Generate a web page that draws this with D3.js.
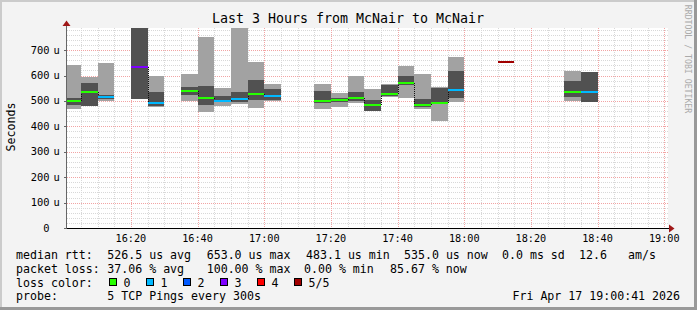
<!DOCTYPE html>
<html>
<head>
<meta charset="utf-8">
<script src="https://cdn.jsdelivr.net/npm/d3@7"></script>
<style>
  body { margin: 0; background: #f3f3f3; }
  text { font-family: "DejaVu Sans Mono", monospace; fill: #000; }
</style>
</head>
<body>
<div id="chart"></div>
<script>
// 5 minute steps, times are the start of each step
var steps   = ["16:00","16:05","16:10","16:20","16:25","16:35","16:40","16:45","16:50","16:55","17:00",
               "17:15","17:20","17:25","17:30","17:35","17:40","17:45","17:50","17:55","18:10","18:30","18:35"];
var pingMin = [469, 481, 501, 507, 475, 499, 457, 480, 489, 473, 501, 469, 477, 490, 461, 514, 512, 468, 422, 497, null, 501, 494];
var pingLo  = [483, 481, 506, 507, 480, 523, 485, 494, 497, 503, 503, 490, 495, 498, 461, 519, 564, 476, 490, 510, null, 514, 496];
var median  = [498, 537, 516, 634, 493, 540, 512, 501, 507, 527, 519, 501, 503, 511, 485, 527, 571, 484, 493, 543, 653, 536, 535];
var pingHi  = [511, 570, 524, 800, 535, 554, 558, 519, 535, 582, 547, 539, 511, 535, 503, 562, 598, 506, 550, 617, null, 578, 612];
var pingMax = [642, 594, 650, 800, 599, 606, 752, 551, 800, 653, 566, 566, 530, 599, 547, 566, 638, 605, 553, 674, null, 617, 614];
var loss    = [0, 0, 1, 3, 1, 0, 0, 1, 1, 0, 1, 0, 0, 0, 0, 0, 0, 0, 0, 1, 5, 0, 1];

var lossLabels = ["0", "1", "2", "3", "4", "5/5"];
var lossColors = ["#26ff00", "#00b8ff", "#0059ff", "#7e00ff", "#ff0000", "#a10000"];
var yTicks = [0, 100, 200, 300, 400, 500, 600, 700];

var w = 697, h = 310;
var pLeft = 67, pRight = 667, pTop = 28, pBottom = 228;

var parse = d3.timeParse("%Y-%m-%d %H:%M:%S");
var t0 = parse("2026-04-17 16:00:41"), t1 = parse("2026-04-17 19:00:41");
var day = "2026-04-17 ";

var x = d3.scaleTime().domain([t0, t1]).range([pLeft - 0.5, pRight - 0.5]);
var y = d3.scaleLinear().domain([0, 787]).range([pBottom, pTop]);

var data = steps.map(function(s, i) {
    var a = parse(day + s + ":00");
    return { t: a, t2: d3.timeMinute.offset(a, 5), min: pingMin[i], lo: pingLo[i],
             med: median[i], hi: pingHi[i], max: pingMax[i], loss: loss[i] };
});

var svg = d3.select("#chart").append("svg")
    .attr("width", w)
    .attr("height", h)
    .style("display", "block");

// frame
svg.append("rect").attr("width", w).attr("height", h).attr("fill", "#f3f3f3");
svg.append("path").attr("d", "M1,309V1H696").attr("fill", "none").attr("stroke", "#cbcbcb").attr("stroke-width", 2);
svg.append("path").attr("d", "M0,308.5H695.5V0").attr("fill", "none").attr("stroke", "#999").attr("stroke-width", 3);

// canvas
svg.append("rect").attr("x", pLeft).attr("y", pTop).attr("width", pRight - pLeft + 1).attr("height", pBottom - pTop)
    .attr("fill", "#fff");

svg.append("clipPath").attr("id", "plot")
  .append("rect").attr("x", pLeft).attr("y", pTop).attr("width", pRight - pLeft + 1).attr("height", pBottom - pTop);

// grid
var grid = svg.append("g").attr("shape-rendering", "crispEdges");
var minorX = d3.timeMinute.every(5).range(t0, d3.timeMinute.offset(t1, 1)).filter(function(d) { return d.getMinutes() % 20 != 0; });
var majorX = d3.timeMinute.every(20).range(t0, d3.timeMinute.offset(t1, 1));
var minorY = d3.range(20, 787, 20).filter(function(d) { return d % 100 != 0; });
var majorY = d3.range(100, 787, 100);

grid.selectAll("line.mx").data(minorX).enter().append("line")
    .attr("x1", function(d) { return Math.round(x(d)) + 0.5; })
    .attr("x2", function(d) { return Math.round(x(d)) + 0.5; })
    .attr("y1", pTop).attr("y2", pBottom)
    .attr("stroke", "#d8d8d8").attr("stroke-dasharray", "1,1");
grid.selectAll("line.my").data(minorY).enter().append("line")
    .attr("x1", pLeft).attr("x2", pRight + 1)
    .attr("y1", function(d) { return Math.round(y(d)) + 0.5; })
    .attr("y2", function(d) { return Math.round(y(d)) + 0.5; })
    .attr("stroke", "#d8d8d8").attr("stroke-dasharray", "1,1");
grid.selectAll("line.Mx").data(majorX).enter().append("line")
    .attr("x1", function(d) { return Math.round(x(d)) + 0.5; })
    .attr("x2", function(d) { return Math.round(x(d)) + 0.5; })
    .attr("y1", pTop).attr("y2", pBottom)
    .attr("stroke", "#f2a4a4").attr("stroke-dasharray", "1,1");
grid.selectAll("line.My").data(majorY).enter().append("line")
    .attr("x1", pLeft).attr("x2", pRight + 1)
    .attr("y1", function(d) { return Math.round(y(d)) + 0.5; })
    .attr("y2", function(d) { return Math.round(y(d)) + 0.5; })
    .attr("stroke", "#f2a4a4").attr("stroke-dasharray", "1,1");

// smoke
var plot = svg.append("g").attr("clip-path", "url(#plot)").attr("shape-rendering", "crispEdges");
var smoke = data.filter(function(d) { return d.min != null; });

plot.selectAll("rect.light").data(smoke).enter().append("rect")
    .attr("x", function(d) { return x(d.t); })
    .attr("width", function(d) { return x(d.t2) - x(d.t); })
    .attr("y", function(d) { return y(d.max); })
    .attr("height", function(d) { return y(d.min) - y(d.max); })
    .attr("fill", "#a2a2a2");
plot.selectAll("rect.dark").data(smoke).enter().append("rect")
    .attr("x", function(d) { return x(d.t); })
    .attr("width", function(d) { return x(d.t2) - x(d.t); })
    .attr("y", function(d) { return y(d.hi); })
    .attr("height", function(d) { return y(d.lo) - y(d.hi); })
    .attr("fill", "#515151");

// step connectors between neighbouring medians
var joins = [];
for (var i = 1; i < data.length; i++) {
    if (+data[i].t == +data[i - 1].t2) joins.push([data[i - 1], data[i]]);
}
plot.selectAll("line.join").data(joins).enter().append("line")
    .attr("x1", function(d) { return Math.round(x(d[1].t)) + 0.5; })
    .attr("x2", function(d) { return Math.round(x(d[1].t)) + 0.5; })
    .attr("y1", function(d) { return y(d[0].med); })
    .attr("y2", function(d) { return y(d[1].med); })
    .attr("stroke", "#111").attr("stroke-dasharray", "1,1");

// median lines coloured by loss
plot.selectAll("line.med").data(data).enter().append("line")
    .attr("x1", function(d) { return x(d.t); })
    .attr("x2", function(d) { return x(d.t2); })
    .attr("y1", function(d) { return Math.round(y(d.med)); })
    .attr("y2", function(d) { return Math.round(y(d.med)); })
    .attr("stroke", function(d) { return lossColors[d.loss]; })
    .attr("stroke-width", 2);

// axes
svg.append("line").attr("x1", pLeft - 0.5).attr("x2", pLeft - 0.5).attr("y1", 25).attr("y2", pBottom + 1)
    .attr("stroke", "#666");
svg.append("line").attr("x1", pLeft - 3).attr("x2", 670).attr("y1", pBottom + 0.5).attr("y2", pBottom + 0.5)
    .attr("stroke", "#000");
svg.append("path").attr("d", "M62.5,26L66.5,20.5L70.5,26Z").attr("fill", "#a01818");
svg.append("path").attr("d", "M669,224.5L674.5,228.5L669,232.5Z").attr("fill", "#a01818");

svg.selectAll("line.ytick").data(yTicks).enter().append("line")
    .attr("x1", pLeft - 3).attr("x2", pLeft)
    .attr("y1", function(d) { return Math.round(y(d)) + 0.5; })
    .attr("y2", function(d) { return Math.round(y(d)) + 0.5; })
    .attr("stroke", "#666");

svg.selectAll("text.ylab").data(yTicks).enter().append("text")
    .attr("x", 49.5)
    .attr("y", function(d) { return y(d) + 3.5; })
    .attr("text-anchor", "end")
    .style("font-size", "10.4px")
    .text(function(d) { return d; });
svg.selectAll("text.yunit").data(yTicks.filter(function(d) { return d > 0; })).enter().append("text")
    .attr("x", 53.5)
    .attr("y", function(d) { return y(d) + 3.5; })
    .style("font-size", "10.4px")
    .text("u");

svg.selectAll("text.xlab").data(majorX).enter().append("text")
    .attr("x", function(d) { return x(d); })
    .attr("y", 242)
    .attr("text-anchor", "middle")
    .style("font-size", "10.2px")
    .text(d3.timeFormat("%H:%M"));

// titles
svg.append("text").attr("x", 348).attr("y", 23).attr("text-anchor", "middle")
    .style("font-size", "13.3px").text("Last 3 Hours from McNair to McNair");
svg.append("text").attr("transform", "translate(15,127) rotate(-90)").attr("text-anchor", "middle")
    .style("font-size", "11.6px").text("Seconds");
svg.append("text").attr("transform", "translate(684.5,59) rotate(90)").attr("text-anchor", "middle")
    .style("font-size", "8.2px").style("fill", "#aaa").text("RRDTOOL / TOBI OETIKER");

// legend
var legend = svg.append("g").style("font-size", "11.6px");
var rows = [
    [[16, "median rtt:"], [107.3, "526.5 us avg"], [206.7, "653.0 us max"], [306, "483.1 us min"],
     [404, "535.0 us now"], [502, "0.0 ms sd"], [579, "12.6"], [628, "am/s"]],
    [[16, "packet loss:"], [107.3, "37.06 % avg"], [206.7, "100.00 % max"], [304, "0.00 % min"],
     [390, "85.67 % now"]],
    [[16, "loss color:"]],
    [[16, "probe:"], [107.3, "5 TCP Pings every 300s"]]
];
var rowY = [259, 272.5, 286.5, 300];
rows.forEach(function(r, i) {
    legend.selectAll(null).data(r).enter().append("text")
        .attr("x", function(d) { return d[0]; })
        .attr("y", rowY[i])
        .text(function(d) { return d[1]; });
});
legend.append("text").attr("x", 680).attr("y", rowY[3]).attr("text-anchor", "end")
    .text("Fri Apr 17 19:00:41 2026");

var lossX = d3.scaleLinear().domain([0, 1]).range([108.5, 145.5]);
legend.selectAll("rect.lc").data(lossLabels).enter().append("rect")
    .attr("x", function(d, i) { return Math.round(lossX(i)) + 0.5; })
    .attr("y", 278.5)
    .attr("width", 7).attr("height", 7)
    .attr("fill", function(d, i) { return lossColors[i]; })
    .attr("stroke", "#000");
legend.selectAll("text.lc").data(lossLabels).enter().append("text")
    .attr("x", function(d, i) { return lossX(i) + 15; })
    .attr("y", rowY[2])
    .text(function(d) { return d; });
</script>
</body>
</html>
